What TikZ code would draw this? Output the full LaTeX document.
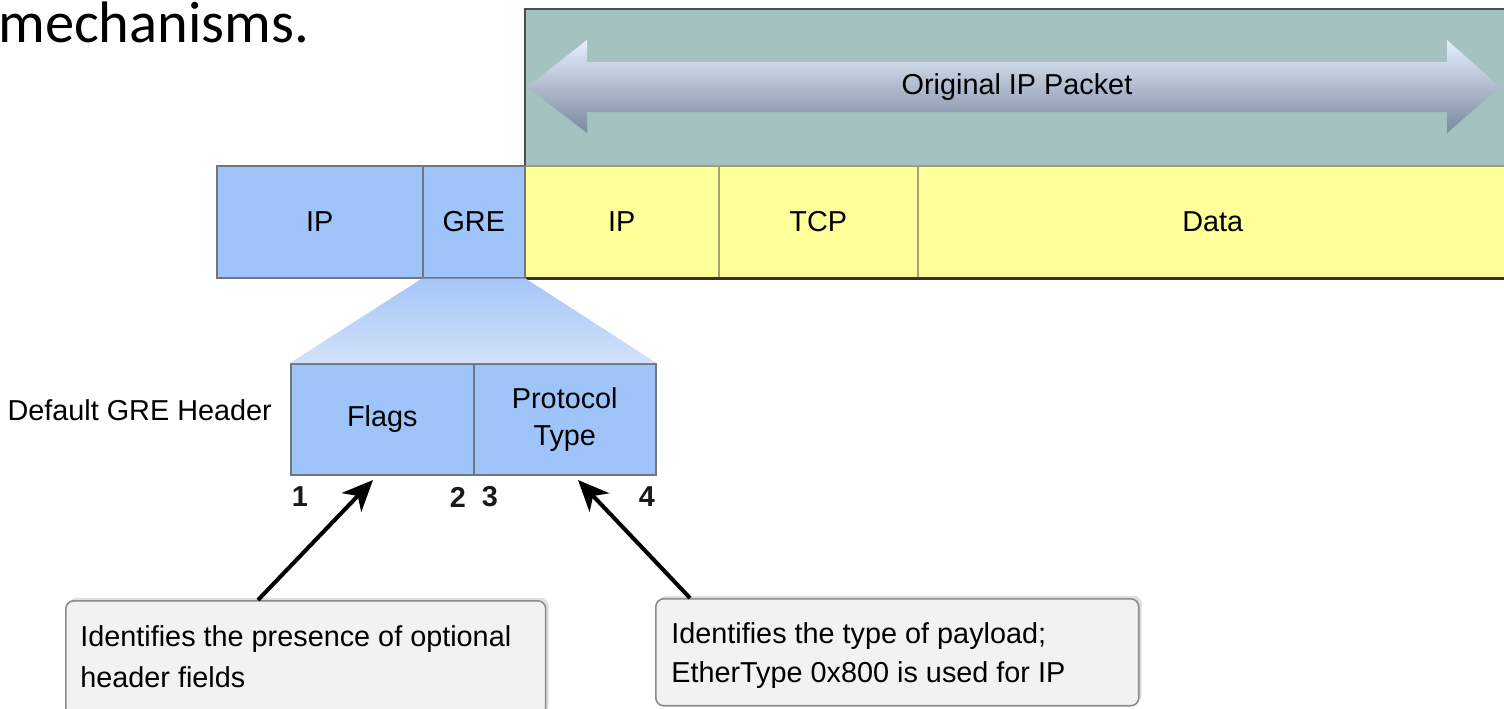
\documentclass[tikz,border=0pt]{standalone}
\usepackage{fontspec}
\setmainfont{Liberation Sans}
\newfontfamily\calibrifont{Carlito}
\usetikzlibrary{arrows.meta,shadows}
\definecolor{tealbg}{HTML}{A3C2C0}
\definecolor{yelcell}{HTML}{FFFF99}
\definecolor{blucell}{HTML}{9FC4F9}
\definecolor{blueline}{HTML}{6E7680}
\definecolor{yelline}{HTML}{A0A07A}
\definecolor{calloutfill}{HTML}{F2F2F2}
\definecolor{calloutline}{HTML}{8C8C8C}
\definecolor{arrtop}{HTML}{E6F0FE}
\definecolor{arrmid}{HTML}{CBDBF3}
\definecolor{arrbot}{HTML}{7A879E}
\definecolor{funtop}{HTML}{A4C6F8}
\definecolor{funbot}{HTML}{D2E2FA}
\tikzset{
  lbl/.style={font=\fontsize{16.4}{21}\selectfont, text=black},
  bluebox/.style={draw=blueline, line width=0.9pt, fill=blucell, anchor=north west, inner sep=0pt, lbl},
  yelbox/.style={draw=yelline, line width=0.9pt, fill=yelcell, anchor=north west, inner sep=0pt, lbl},
  numlbl/.style={font=\fontsize{16.4}{20}\selectfont\bfseries, text=black!90},
  callout/.style={draw=calloutline, line width=0.9pt, fill=calloutfill, rounded corners=0.16cm,
     anchor=north west, inner sep=0pt, font=\fontsize{16.4}{22.5}\selectfont, align=left, text width=9.0cm,
     drop shadow={opacity=0.25, shadow xshift=0.06cm, shadow yshift=0.06cm}},
  pointer/.style={line width=2.3pt, black, -{Stealth[length=0.62cm, width=0.54cm, inset=0.18cm]}}
}
\begin{document}
\begin{tikzpicture}[x=0.02cm, y=-0.02cm]
\useasboundingbox (0,0) rectangle (1504,708);
\clip (0,0) rectangle (1504,708);
% slide text
\node[anchor=base west, inner sep=0pt, font=\calibrifont\fontsize{33.3}{40}\selectfont] (slidetext) at (-2,42) {mechanisms.};
% teal original packet area
\node[draw=black!70, line width=1pt, fill=tealbg, anchor=north west, inner sep=0pt,
      minimum width=19.7cm, minimum height=3.14cm,
      drop shadow={opacity=0.2, shadow xshift=0.04cm, shadow yshift=-0.04cm}] (orig) at (524,8) {};
% double arrow
\shade[top color=arrtop, middle color=arrmid, bottom color=arrbot]
  (527,87) -- (587,40) -- (587,62) -- (1447,62) -- (1447,40) -- (1500,87)
  -- (1447,133) -- (1447,112) -- (587,112) -- (587,133) -- cycle;
\node[lbl] (origlbl) at (1017,87) {Original IP Packet};
% yellow cells
\node[yelbox, minimum width=3.88cm, minimum height=2.24cm] (ipin) at (524,165) {IP};
\node[yelbox, minimum width=3.98cm, minimum height=2.24cm] (tcp) at (718,165) {TCP};
\node[yelbox, minimum width=11.8cm, minimum height=2.24cm] (data) at (917,165) {Data};
\draw[black!80, line width=1.4pt] (ipin.south west) -- (data.south east);
% blue cells
\node[bluebox, minimum width=4.12cm, minimum height=2.24cm] (ipout) at (216,165) {IP};
\node[bluebox, minimum width=2.04cm, minimum height=2.24cm] (gre) at (422,165) {GRE};
% header fields
\node[bluebox, minimum width=3.66cm, minimum height=2.22cm] (flags) at (290,363) {Flags};
\node[bluebox, minimum width=3.64cm, minimum height=2.22cm, align=center] (proto) at (473,363) {Protocol\\Type};
% funnel
\shade[top color=funtop, bottom color=funbot]
  (gre.south west) -- (gre.south east) -- (proto.north east) -- (flags.north west) -- cycle;
\node[lbl, anchor=east] (hdrlbl) at (278,410) {Default GRE Header};
% bit numbers
\node[numlbl] (n1) at (300,497) {1};
\node[numlbl] (n2) at (458,497) {2};
\node[numlbl] (n3) at (490,497) {3};
\node[numlbl] (n4) at (647,497) {4};
% callouts
\node[callout, minimum width=9.6cm, minimum height=2.3cm] (c1) at (65,600) {};
\node[anchor=north west, font=\fontsize{16.4}{20}\selectfont, align=left, inner sep=0pt] (c1t) at (80,625)
  {Identifies the presence of optional\\[0.13cm]header fields};
\node[callout, minimum width=9.66cm, minimum height=2.14cm] (c2) at (655,598) {};
\node[anchor=north west, font=\fontsize{16.4}{20}\selectfont, align=left, inner sep=0pt] (c2t) at (671,622)
  {Identifies the type of payload;\\[0.08cm]EtherType 0x800 is used for IP};
% pointers
\coordinate (tipflags) at (373,480);
\coordinate (tipproto) at (578,480);
\coordinate (tail1) at (258,600);
\coordinate (tail2) at (690,598);
\draw[pointer] (tail1) -- (tipflags);
\draw[pointer] (tail2) -- (tipproto);
\end{tikzpicture}
\end{document}
